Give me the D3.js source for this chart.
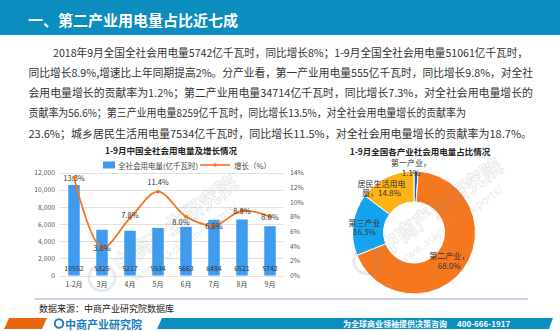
<!DOCTYPE html>
<html><head><meta charset="utf-8">
<script src="https://cdn.jsdelivr.net/npm/d3@7"></script>
<style>
html,body{margin:0;padding:0;background:#fff;}
svg{display:block;}
text{font-family:"Noto Sans CJK SC","Noto Sans",sans-serif;}
</style></head>
<body>
<svg id="c" width="560" height="331"></svg>
<script>
// ---------- data ----------
const headerTitle = "一、第二产业用电量占比近七成";
const paragraphLines = [
  "2018年9月全国全社会用电量5742亿千瓦时，同比增长8%；1-9月全国全社会用电量51061亿千瓦时，",
  "同比增长8.9%,增速比上年同期提高2%。分产业看，第一产业用电量555亿千瓦时，同比增长9.8%，对全社",
  "会用电量增长的贡献率为1.2%；第二产业用电量34714亿千瓦时，同比增长7.3%，对全社会用电量增长的",
  "贡献率为56.6%；第三产业用电量8259亿千瓦时，同比增长13.5%，对全社会用电量增长的贡献率为",
  "23.6%；城乡居民生活用电量7534亿千瓦时，同比增长11.5%，对全社会用电量增长的贡献率为18.7%。"
];
const barTitle = "1-9月中国全社会用电量及增长情况";
const categories = ["1-2月","3月","4月","5月","6月","7月","8月","9月"];
const consumption = [10552,5325,5217,5534,5663,6484,6521,5742];
const growth = [13.3,3.8,7.8,11.4,8.0,6.8,8.8,8.0];
const leftTicks = [0,2000,4000,6000,8000,10000,12000];
const rightTicks = [0,2,4,6,8,10,12,14];
const seriesNames = ["全社会用电量(亿千瓦时)","增长（%）"];
const pieTitle = "1-9月全国各产业社会用电量占比情况";
const pieNames = ["第一产业","第二产业","第三产业","居民生活用电量"];
const pieValues = [1.1,68.0,16.3,14.8];
const pieLabelLines = [["第一产业，","1.1%"],["第二产业，","68.0%"],["第三产业","16.3%"],["居民生活用电","量，14.8%"]];
const sourceText = "数据来源：中商产业研究院数据库";
const footerSlogan = "为全球商业领袖提供决策咨询";
const footerPhone = "400-666-1917";
const brandName = "中商产业研究院";

// ---------- drawing ----------
const svg = d3.select("#c");
const serif = "'Liberation Serif','Noto Sans CJK SC',serif";

// header
svg.append("rect").attr("x",0).attr("y",0).attr("width",560).attr("height",35).attr("fill","#0b8dc0");
svg.append("text").attr("x",28).attr("y",19).attr("dominant-baseline","central")
  .attr("fill","#fff").attr("font-size",15).attr("font-weight","bold").text(headerTitle);

// paragraph
const lineY = [51.5,71.8,92,112.2,132.5];
const lineX0 = [53,28.5,28.5,28.5,28.5];
const lineX1 = [528,533,533,466,532];
paragraphLines.forEach((t,i)=>{
  svg.append("text").attr("x",lineX0[i]).attr("y",lineY[i]).attr("dominant-baseline","central")
    .attr("font-size",11).attr("fill","#333")
    .attr("textLength",lineX1[i]-lineX0[i]).attr("lengthAdjust","spacingAndGlyphs").text(t);
});

// watermarks
function watermark(cx,cy){
  const g = svg.append("g").attr("transform",`translate(${cx},${cy}) rotate(-36)`).attr("opacity",0.2);
  g.append("circle").attr("cx",-78).attr("cy",0).attr("r",13).attr("fill","none").attr("stroke","#8a9aa8").attr("stroke-width",3);
  g.append("text").attr("x",-60).attr("y",7).attr("font-size",21).attr("font-weight","bold")
    .attr("fill","none").attr("stroke","#7a8a98").attr("stroke-width",0.9).text(brandName);
  g.append("text").attr("x",-52).attr("y",24).attr("font-size",11).attr("fill","#8a9aa8").text("www.askci.com/reports/");
}

// ---- bar + line chart ----
const x = d3.scaleBand().domain(categories).range([60,284]).paddingInner(0.59).paddingOuter(0.295);
const yL = d3.scaleLinear().domain([0,12000]).range([275.5,172.5]);
const yR = d3.scaleLinear().domain([0,14]).range([275.5,172.5]);

svg.append("text").attr("x",171).attr("y",150).attr("text-anchor","middle").attr("dominant-baseline","central")
  .attr("font-size",8.5).attr("font-weight","bold").attr("fill","#222").text(barTitle);

// legend
const lg = svg.append("g");
lg.append("rect").attr("x",103).attr("y",161.5).attr("width",12).attr("height",7).attr("fill","#3d9bf0");
lg.append("text").attr("x",118).attr("y",165).attr("dominant-baseline","central").attr("font-size",7.5).attr("fill","#444").text(seriesNames[0]);
lg.append("line").attr("x1",200).attr("x2",230).attr("y1",165).attr("y2",165).attr("stroke","#f5741e").attr("stroke-width",1.6);
lg.append("circle").attr("cx",215).attr("cy",165).attr("r",1.8).attr("fill","#f5741e");
lg.append("text").attr("x",234).attr("y",165).attr("dominant-baseline","central").attr("font-size",7.5).attr("fill","#444").text(seriesNames[1]);

// grid
svg.append("g").selectAll("line").data(leftTicks).join("line")
  .attr("x1",59).attr("x2",284).attr("y1",d=>Math.round(yL(d))+0.5).attr("y2",d=>Math.round(yL(d))+0.5)
  .attr("stroke","#d9d9d9").attr("stroke-width",0.8);

// axes
const axL = svg.append("g").attr("transform","translate(60,0)")
  .call(d3.axisLeft(yL).tickValues(leftTicks).tickSize(0).tickPadding(5));
axL.select(".domain").remove();
axL.selectAll("text").attr("font-size",6.8).attr("fill","#555").attr("font-family",serif);
const axR = svg.append("g").attr("transform","translate(284,0)")
  .call(d3.axisRight(yR).tickValues(rightTicks).tickSize(0).tickPadding(6).tickFormat(d=>d+"%"));
axR.select(".domain").remove();
axR.selectAll("text").attr("font-size",6.8).attr("fill","#555").attr("font-family",serif);
const axB = svg.append("g").attr("transform","translate(0,275.5)")
  .call(d3.axisBottom(x).tickSize(0).tickPadding(7));
axB.select(".domain").remove();
axB.selectAll("text").attr("font-size",7).attr("fill","#444").attr("font-family",serif);

// bars
svg.append("g").selectAll("rect").data(consumption).join("rect")
  .attr("x",(d,i)=>x(categories[i])).attr("width",x.bandwidth())
  .attr("y",d=>yL(d)).attr("height",d=>yL(0)-yL(d)).attr("fill","#3d9bf0");
svg.append("g").selectAll("text").data(consumption).join("text")
  .attr("x",(d,i)=>x(categories[i])+x.bandwidth()/2).attr("y",268).attr("text-anchor","middle")
  .attr("dominant-baseline","central").attr("font-size",7).attr("fill","#333").attr("font-family",serif).text(d=>d);

watermark(165,232);

// line
const pts = growth.map((g,i)=>[x(categories[i])+x.bandwidth()/2, yR(g)]);
svg.append("path").attr("d",d3.line().curve(d3.curveCatmullRom.alpha(0.5))(pts))
  .attr("fill","none").attr("stroke","#f5741e").attr("stroke-width",1.8);
svg.append("g").selectAll("circle").data(pts).join("circle")
  .attr("cx",d=>d[0]).attr("cy",d=>d[1]).attr("r",1.9).attr("fill","#f5741e");
const labelDy = [0,0,-4,-10,5,0,0,0];
const labelDx = [0,0,0,0,-5,0,0,0];
svg.append("g").selectAll("text").data(growth).join("text")
  .attr("x",(d,i)=>pts[i][0]+labelDx[i]).attr("y",(d,i)=>pts[i][1]+labelDy[i])
  .attr("text-anchor","middle").attr("dominant-baseline","central")
  .attr("font-size",7.5).attr("fill","#333").attr("font-family",serif).text(d=>d.toFixed(1)+"%");

// ---- donut ----
svg.append("text").attr("x",420).attr("y",151).attr("text-anchor","middle").attr("dominant-baseline","central")
  .attr("font-size",8.5).attr("font-weight","bold").attr("fill","#222").text(pieTitle);
const pieColors = ["#1f5fae","#f5781f","#13a4f0","#fdb315"];
const cx = 414, cy = 232.5, R = 61.5, r0 = 30.5;
const arcs = d3.pie().sort(null).value(d=>d)(pieValues);
const arc = d3.arc().innerRadius(r0).outerRadius(R);
const pg = svg.append("g").attr("transform",`translate(${cx},${cy})`);
pg.selectAll("path").data(arcs).join("path").attr("d",arc)
  .attr("fill",(d,i)=>pieColors[i]).attr("stroke","#fff").attr("stroke-width",1);
watermark(430,215);
const labArc = d3.arc().innerRadius(46).outerRadius(46);
const labOff = [[-3,-66],[-2,0],[-4,0],[-12,-4]];
arcs.forEach((a,i)=>{
  const c = i===0 ? [0,0] : labArc.centroid(a);
  const t = pg.append("text").attr("text-anchor","middle").attr("font-size",8).attr("fill","#333").attr("font-family",serif);
  pieLabelLines[i].forEach((s,j)=>{
    t.append("tspan").attr("x",c[0]+labOff[i][0]).attr("y",c[1]+labOff[i][1]-4+j*9.5)
      .attr("dominant-baseline","central").text(s);
  });
});

// ---- bottom ----
svg.append("line").attr("x1",35).attr("x2",528).attr("y1",299).attr("y2",299).attr("stroke","#c6d3e6").attr("stroke-width",2);
svg.append("text").attr("x",39).attr("y",308).attr("dominant-baseline","central").attr("font-size",9).attr("fill","#222").text(sourceText);

svg.append("polygon").attr("points","9,318 47,318 42,329 4,329").attr("fill","#e8660e");
svg.append("circle").attr("cx",59).attr("cy",323.5).attr("r",4.2).attr("fill","none").attr("stroke","#1a7fc1").attr("stroke-width",2);
svg.append("text").attr("x",65).attr("y",323.5).attr("dominant-baseline","central").attr("font-size",11).attr("font-weight","bold").attr("fill","#1a7fc1").text(brandName);
svg.append("polygon").attr("points","162,318 553,318 549,329 157,329").attr("fill","#0b8ec2");
svg.append("text").attr("x",343).attr("y",323.5).attr("dominant-baseline","central").attr("font-size",8).attr("font-weight","bold").attr("fill","#fff").text(footerSlogan);
svg.append("text").attr("x",457).attr("y",323.5).attr("dominant-baseline","central").attr("font-size",8).attr("font-weight","bold").attr("fill","#fff").text(footerPhone);
</script>
</body></html>
